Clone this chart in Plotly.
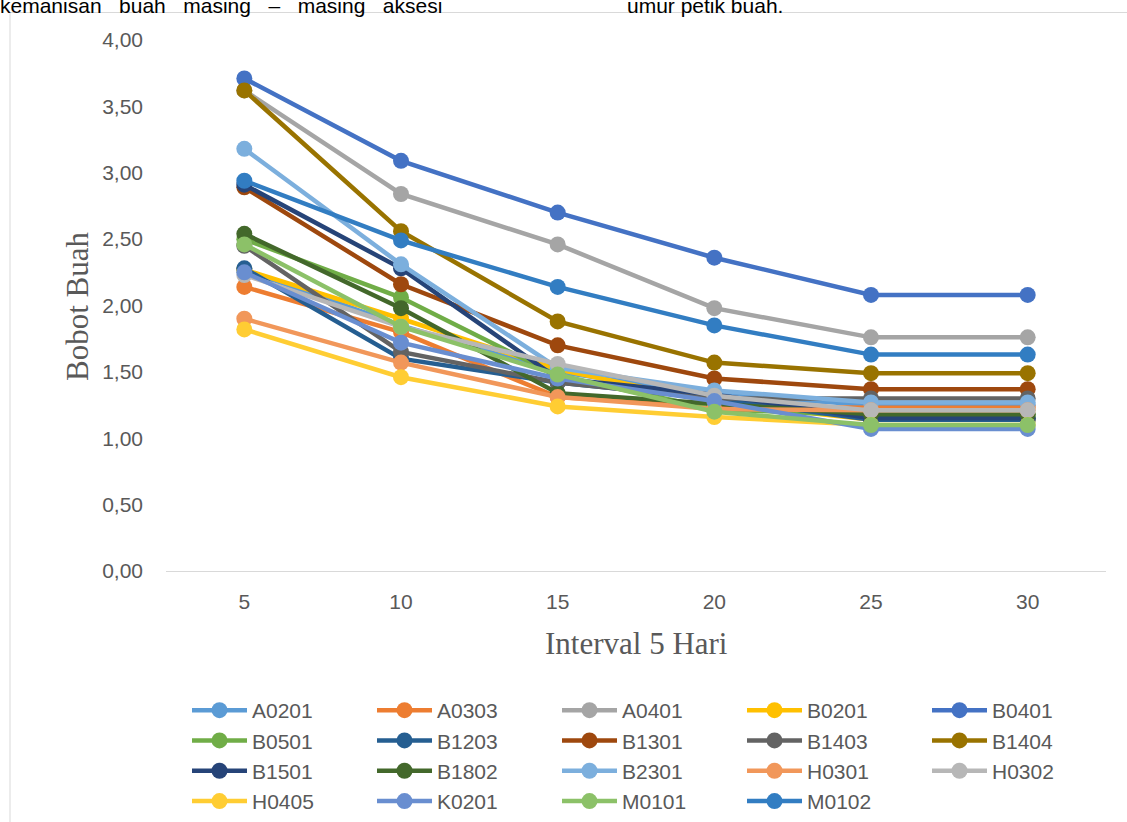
import plotly.graph_objects as go

days = [5, 10, 15, 20, 25, 30]
tick_vals_y = [0, 0.5, 1.0, 1.5, 2.0, 2.5, 3.0, 3.5, 4.0]
tick_text_y = ["0,00", "0,50", "1,00", "1,50", "2,00", "2,50", "3,00", "3,50", "4,00"]

A0201 = [2.27, 1.85, 1.50, 1.33, 1.25, 1.25]
A0303 = [2.14, 1.80, 1.31, 1.24, 1.23, 1.23]
A0401 = [3.62, 2.84, 2.46, 1.98, 1.76, 1.76]
B0201 = [2.27, 1.90, 1.52, 1.27, 1.14, 1.14]
B0401 = [3.71, 3.09, 2.70, 2.36, 2.08, 2.08]
B0501 = [2.50, 2.06, 1.47, 1.22, 1.17, 1.17]
B1203 = [2.28, 1.60, 1.42, 1.30, 1.14, 1.14]
B1301 = [2.89, 2.16, 1.70, 1.45, 1.37, 1.37]
B1403 = [2.45, 1.65, 1.42, 1.30, 1.30, 1.30]
B1404 = [3.62, 2.56, 1.88, 1.57, 1.49, 1.49]
B1501 = [2.91, 2.28, 1.45, 1.33, 1.15, 1.15]
B1802 = [2.54, 1.98, 1.34, 1.26, 1.18, 1.18]
B2301 = [3.18, 2.31, 1.53, 1.36, 1.27, 1.27]
H0301 = [1.90, 1.57, 1.31, 1.22, 1.21, 1.21]
H0302 = [2.23, 1.84, 1.56, 1.32, 1.21, 1.21]
H0405 = [1.82, 1.46, 1.24, 1.16, 1.10, 1.10]
K0201 = [2.25, 1.72, 1.45, 1.28, 1.07, 1.07]
M0101 = [2.46, 1.84, 1.48, 1.20, 1.10, 1.10]
M0102 = [2.94, 2.49, 2.14, 1.85, 1.63, 1.63]

series = [
    ("A0201", A0201, "#5B9BD5"),
    ("A0303", A0303, "#ED7D31"),
    ("A0401", A0401, "#A5A5A5"),
    ("B0201", B0201, "#FFC000"),
    ("B0401", B0401, "#4472C4"),
    ("B0501", B0501, "#70AD47"),
    ("B1203", B1203, "#255E91"),
    ("B1301", B1301, "#9E480E"),
    ("B1403", B1403, "#636363"),
    ("B1404", B1404, "#997300"),
    ("B1501", B1501, "#264478"),
    ("B1802", B1802, "#43682B"),
    ("B2301", B2301, "#7CAFDD"),
    ("H0301", H0301, "#F1975A"),
    ("H0302", H0302, "#B7B7B7"),
    ("H0405", H0405, "#FFCD33"),
    ("K0201", K0201, "#698ED0"),
    ("M0101", M0101, "#8CC168"),
    ("M0102", M0102, "#327DC2"),
]

fig = go.Figure()
for name, vals, col in series:
    fig.add_trace(go.Scatter(
        x=days, y=vals, name=name, mode="lines+markers",
        line=dict(color=col, width=4.5),
        marker=dict(color=col, size=16, symbol="circle"),
    ))

W, H = 1127, 822
L, R, T, B = 166, 21, 40, 251
pw, ph = W - L - R, H - T - B

def px_x(p):
    return (p - L) / pw

def px_y(p):
    return (H - B - p) / ph

grey = "#595959"
fig.update_layout(
    width=W, height=H,
    margin=dict(l=L, r=R, t=T, b=B, autoexpand=False),
    paper_bgcolor="white", plot_bgcolor="white",
    font=dict(family="Liberation Sans, Arial, sans-serif", size=21, color=grey),
    xaxis=dict(range=[2.5, 32.5], tickvals=days, ticktext=[str(d) for d in days],
               showgrid=False, zeroline=False, showline=True, linecolor="#D9D9D9",
               linewidth=1, ticks="", ticklabelstandoff=12,
               tickfont=dict(size=21, color=grey)),
    yaxis=dict(range=[0, 4], tickvals=tick_vals_y, ticktext=tick_text_y,
               showgrid=False, zeroline=False, showline=False, ticks="",
               ticklabelstandoff=22, tickfont=dict(size=21, color=grey)),
    legend=dict(orientation="h", x=px_x(187), y=px_y(690), xanchor="left", yanchor="top",
                entrywidth=115, entrywidthmode="pixels", itemwidth=55,
                font=dict(size=21, color=grey), bgcolor="rgba(0,0,0,0)",
                traceorder="normal", tracegroupgap=0),
    showlegend=True,
)

fig.add_annotation(text="Bobot Buah", xref="paper", yref="paper", x=px_x(78), y=px_y(307),
                   xanchor="center", yanchor="middle", textangle=-90, showarrow=False,
                   font=dict(family="Liberation Serif, Times New Roman, serif", size=31, color=grey))
fig.add_annotation(text="Interval 5 Hari", xref="paper", yref="paper", x=0.5, y=px_y(643),
                   xanchor="center", yanchor="middle", showarrow=False,
                   font=dict(family="Liberation Serif, Times New Roman, serif", size=31, color=grey))

nb = "\u00a0" * 3
top1 = ("kemanisan" + nb + "buah" + nb + "masing" + nb + "\u2013" + nb
        + "masing" + nb + "aksesi")
fig.add_annotation(text=top1, xref="paper", yref="paper", x=px_x(-2), y=px_y(19),
                   xanchor="left", yanchor="bottom", showarrow=False,
                   font=dict(family="Liberation Sans, Arial, sans-serif", size=21, color="black"))
fig.add_annotation(text="umur petik buah.", xref="paper", yref="paper", x=px_x(625), y=px_y(19),
                   xanchor="left", yanchor="bottom", showarrow=False,
                   font=dict(family="Liberation Sans, Arial, sans-serif", size=21, color="black"))

fig.add_shape(type="rect", xref="paper", yref="paper",
              x0=px_x(10), x1=px_x(1140), y0=px_y(840), y1=px_y(12.5),
              line=dict(color="#D9D9D9", width=1), fillcolor="rgba(0,0,0,0)", layer="below")

fig.write_html("out.html", config={"displayModeBar": False},
               post_script="document.body.style.margin='0px';")
